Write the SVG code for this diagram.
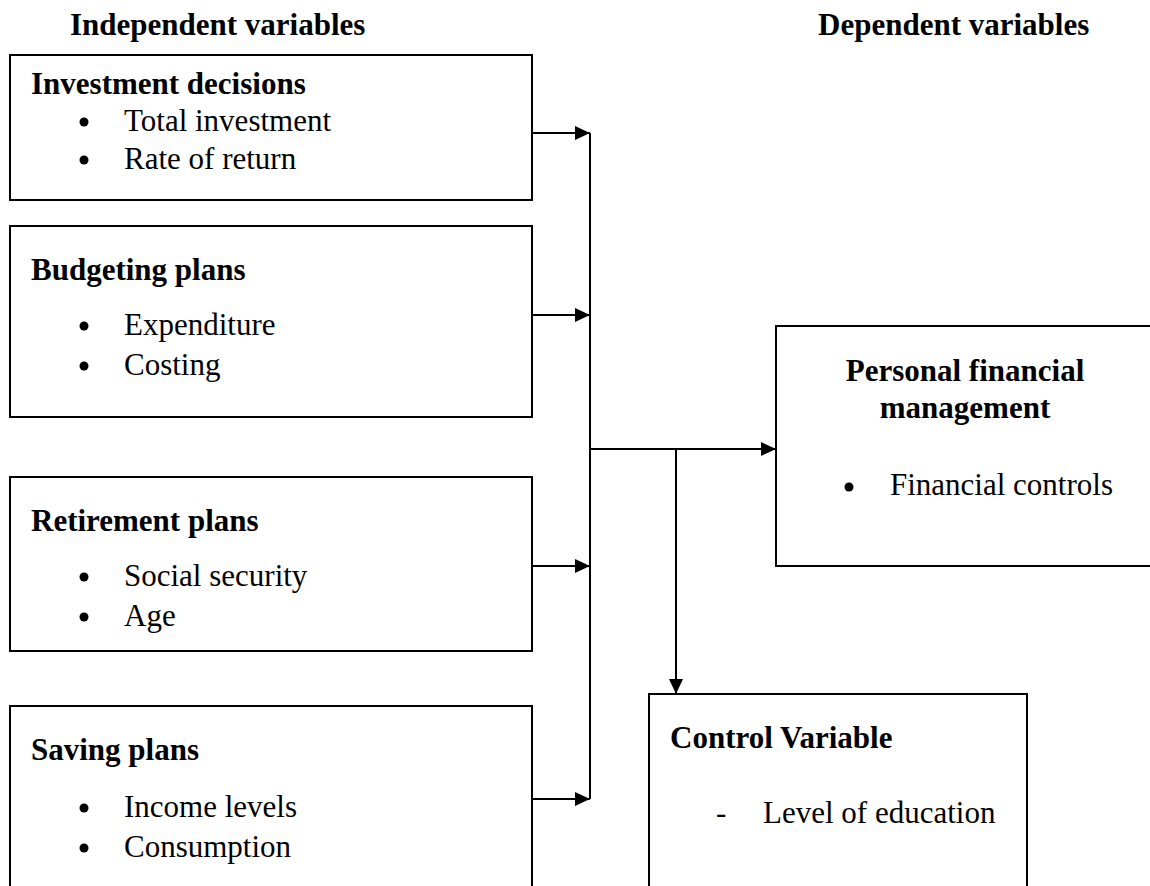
<svg xmlns="http://www.w3.org/2000/svg" width="1150" height="886" viewBox="0 0 1150 886">
<defs>
<style>
.box{fill:#fff;stroke:#000;stroke-width:2}
.h{font-family:"Liberation Serif","Times New Roman",serif;font-weight:bold;font-size:31px;fill:#000}
.t{font-family:"Liberation Serif","Times New Roman",serif;font-size:31px;fill:#000}
.ln{fill:none;stroke:#000;stroke-width:2}
.dot{fill:#000}
</style>
<marker id="arr" markerWidth="15" markerHeight="14" refX="15" refY="7" orient="auto" markerUnits="userSpaceOnUse">
<path d="M0,0 L15,7 L0,14 Z" fill="#000"/>
</marker>
</defs>
<rect width="1150" height="886" fill="#fff"/>
<text class="h" x="70" y="35">Independent variables</text>
<text class="h" x="818" y="35">Dependent variables</text>

<g id="investment">
<rect class="box" x="10" y="55" width="522" height="145"/>
<text class="h" x="31" y="94">Investment decisions</text>
<circle class="dot" cx="84" cy="122" r="4.5"/>
<text class="t" x="124" y="131">Total investment</text>
<circle class="dot" cx="84" cy="160" r="4.5"/>
<text class="t" x="124" y="169">Rate of return</text>
</g>

<g id="budgeting">
<rect class="box" x="10" y="226" width="522" height="191"/>
<text class="h" x="31" y="280">Budgeting plans</text>
<circle class="dot" cx="84" cy="326" r="4.5"/>
<text class="t" x="124" y="335">Expenditure</text>
<circle class="dot" cx="84" cy="366" r="4.5"/>
<text class="t" x="124" y="375">Costing</text>
</g>

<g id="retirement">
<rect class="box" x="10" y="477" width="522" height="174"/>
<text class="h" x="31" y="531">Retirement plans</text>
<circle class="dot" cx="84" cy="577" r="4.5"/>
<text class="t" x="124" y="586">Social security</text>
<circle class="dot" cx="84" cy="617" r="4.5"/>
<text class="t" x="124" y="626">Age</text>
</g>

<g id="saving">
<rect class="box" x="10" y="706" width="522" height="200"/>
<text class="h" x="31" y="760">Saving plans</text>
<circle class="dot" cx="84" cy="808" r="4.5"/>
<text class="t" x="124" y="817">Income levels</text>
<circle class="dot" cx="84" cy="848" r="4.5"/>
<text class="t" x="124" y="857">Consumption</text>
</g>

<g id="pfm">
<rect class="box" x="776" y="326" width="400" height="240"/>
<text class="h" x="965" y="381" text-anchor="middle">Personal financial</text>
<text class="h" x="965" y="418" text-anchor="middle">management</text>
<circle class="dot" cx="849" cy="487" r="4.5"/>
<text class="t" x="890" y="495">Financial controls</text>
</g>

<g id="control">
<rect class="box" x="649" y="694" width="378" height="220"/>
<text class="h" x="670" y="748">Control Variable</text>
<text class="t" x="716" y="823">-</text>
<text class="t" x="763" y="823">Level of education</text>
</g>

<g id="connectors">
<line class="ln" x1="532" y1="133" x2="590" y2="133" marker-end="url(#arr)"/>
<line class="ln" x1="532" y1="315" x2="590" y2="315" marker-end="url(#arr)"/>
<line class="ln" x1="532" y1="566" x2="590" y2="566" marker-end="url(#arr)"/>
<line class="ln" x1="532" y1="799" x2="590" y2="799" marker-end="url(#arr)"/>
<line class="ln" x1="590" y1="133" x2="590" y2="799"/>
<line class="ln" x1="590" y1="449" x2="776" y2="449" marker-end="url(#arr)"/>
<line class="ln" x1="676" y1="449" x2="676" y2="694" marker-end="url(#arr)"/>
</g>
</svg>
